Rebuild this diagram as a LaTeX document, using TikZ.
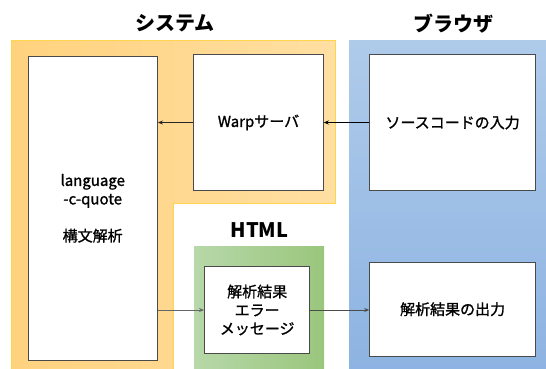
\documentclass[tikz,border=0pt]{standalone}
\usepackage{fontspec}
\setmainfont{Noto Sans CJK JP}
\newfontfamily\boxfont{Noto Sans CJK JP}[FakeBold=1.2]
\usetikzlibrary{arrows.meta}
\definecolor{orL}{HTML}{FFD27E}
\definecolor{orR}{HTML}{FFDFA2}
\definecolor{orEdge}{HTML}{FFD54F}
\definecolor{blT}{HTML}{AFCBEA}
\definecolor{blB}{HTML}{8DB3E2}
\definecolor{grL}{HTML}{B7D8A9}
\definecolor{grR}{HTML}{9AC67D}
\definecolor{boxline}{HTML}{4A4A4A}
\tikzset{
  box/.style={draw=boxline, line width=0.9pt, fill=white, inner sep=0pt,
    align=center, font=\boxfont\fontsize{15}{18.5}\selectfont},
  title/.style={font=\fontsize{20}{23}\selectfont\bfseries},
  link/.style={line width=0.9pt, -{Stealth[length=5pt,width=4pt]}},
}
\begin{document}
\begin{tikzpicture}[x=1pt, y=-1pt]
\useasboundingbox (0,0) rectangle (546,368);

% system area (L-shaped)
\path[left color=orL, right color=orR, draw=orEdge, line width=0.6pt]
  (11.5,40.7) -- (335,40.7) -- (335,203.3) -- (173.4,203.3)
  -- (173.4,369) -- (11.5,369) -- cycle;
% browser area
\path[top color=blT, bottom color=blB]
  (349,40) rectangle (547,369);
% HTML area
\path[left color=grL, right color=grR]
  (194,246.7) rectangle (324,369);

% area titles
\node[title] (tsys) at (175,23.3) {システム};
\node[title] (tbr)  at (453,23.3) {ブラウザ};
\node[title] (thtml) at (259.6,230) {HTML};

% process boxes
\node[box, minimum width=129.5pt, minimum height=303.3pt] (lang) at (92.7,208.3)
  {language\\-c-quote\\[18.5pt]構文解析};
\node[box, minimum width=129.6pt, minimum height=136.4pt] (warp) at (258.5,122.5)
  {Warpサーバ};
\node[box, minimum width=165.8pt, minimum height=136.4pt] (src) at (452.6,122.5)
  {ソースコードの入力};
\node[box, minimum width=105.3pt, minimum height=86.6pt] (html) at (257.2,310)
  {解析結果\\エラー\\メッセージ};
\node[box, minimum width=165.8pt, minimum height=93.7pt] (out) at (452.6,309.2)
  {解析結果の出力};

% data flow
\draw[link, draw=black!85] (warp.west) -- (warp.west -| lang.east);
\draw[link, line width=0.7pt, draw=black] (src.west) -- (warp.east);
\draw[link, draw=black!60] (html.west -| lang.east) -- (html.west);
\draw[link, draw=black!70] (html.east) -- (html.east -| out.west);
\end{tikzpicture}
\end{document}
